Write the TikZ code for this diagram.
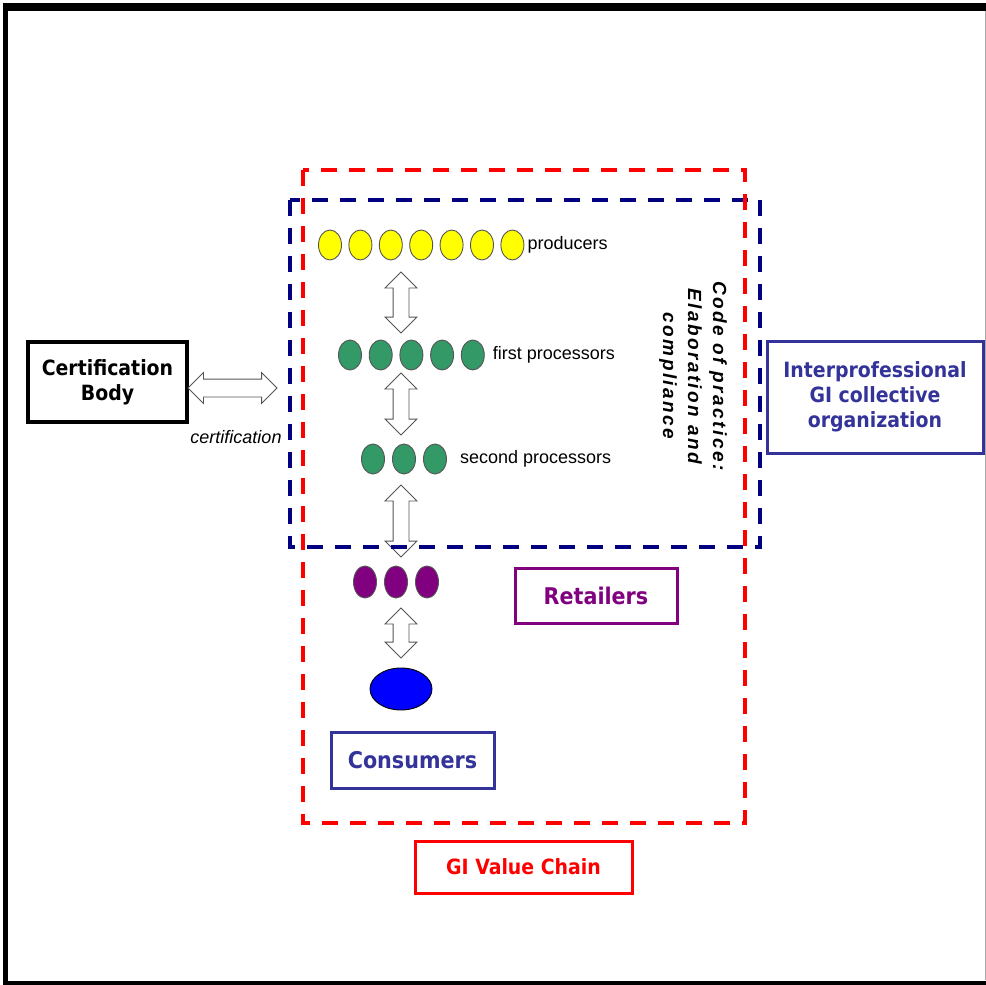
\documentclass[tikz,border=0pt]{standalone}
\usepackage{fontspec}
\setmainfont{Liberation Sans}
\newfontfamily\rotulo{DejaVu Sans Condensed Bold}
\newfontfamily\codigo{Liberation Sans}[LetterSpace=13]
\usetikzlibrary{shapes.geometric,shapes.arrows}
\definecolor{rojo}{HTML}{FF0000}
\definecolor{marino}{HTML}{000080}
\definecolor{morado}{HTML}{800080}
\definecolor{indigo}{HTML}{333399}
\definecolor{amarillo}{HTML}{FFFF00}
\definecolor{verde}{HTML}{339966}
\definecolor{azul}{HTML}{0000FF}
\definecolor{gris}{HTML}{555555}

\tikzset{
  grano/.style={ellipse, draw=gris, line width=0.9pt, inner sep=0pt, minimum width=23pt, minimum height=30pt},
  flecha/.style={double arrow, draw=gris, fill=white, line width=0.8pt, inner xsep=0pt, inner ysep=7.5pt,
    minimum width=31pt, double arrow head extend=8pt},
  caja/.style={draw, line width=3pt, inner sep=0pt, align=center, font=\rotulo\fontsize{21}{25}\selectfont},
  etiqueta/.style={anchor=west, inner sep=0pt, font=\fontsize{18}{21}\selectfont},
  marco/.style={dashed, dash pattern=on 16pt off 12pt, line width=4pt}
}

\begin{document}
\begin{tikzpicture}[x=1pt, y=-1pt]
  \useasboundingbox (0,0) rectangle (986,985);
  \fill[white] (0,0) rectangle (986,985);

  % Marco exterior
  \draw[black, line width=8pt] (3,6.7) -- (986,6.7);
  \draw[black, line width=5pt] (5.6,3) -- (5.6,985);
  \draw[black, line width=4.5pt] (3,982.8) -- (986,982.8);
  \draw[gris!50, line width=1pt] (985,11) -- (985,980);

  % Productores
  \foreach \i in {1,...,7}
    \node[grano, fill=amarillo] (prod\i) at ({330+30.4*(\i-1)},245) {};
  \node[etiqueta] (prodlbl) at ([xshift=3pt]prod7.east) {producers};

  % Primeros transformadores
  \foreach \i in {1,...,5}
    \node[grano, fill=verde] (pri\i) at ({350+30.7*(\i-1)},355) {};
  \node[etiqueta] (prilbl) at ([xshift=8pt]pri5.east) {first processors};

  % Segundos transformadores
  \foreach \i in {1,...,3}
    \node[grano, fill=verde] (seg\i) at ({373+31*(\i-1)},459) {};
  \node[etiqueta] (seglbl) at ([xshift=13pt]seg3.east) {second processors};

  % Minoristas y consumidores
  \foreach \i in {1,...,3}
    \node[grano, fill=morado, minimum height=32pt] (min\i) at ({365+31*(\i-1)},582) {};
  \node[ellipse, draw=black, line width=0.9pt, fill=azul, inner sep=0pt,
    minimum width=62pt, minimum height=42pt] (cons) at (401,689) {};

  % Flechas de la cadena
  \node[flecha, rotate=90, minimum height=61pt] (f1) at (cons |- 0,302.5) {};
  \node[flecha, rotate=90, minimum height=62pt] (f2) at (cons |- 0,404) {};
  \node[flecha, rotate=90, minimum height=72pt] (f3) at (cons |- 0,521) {};
  \node[flecha, rotate=90, minimum height=50pt] (f4) at (cons |- 0,633) {};

  % Organismo de certificacion
  \node[caja, draw=black, line width=4pt, minimum width=159pt, minimum height=80pt] (certif) at (107.5,382) {Certification\\Body};
  \node[flecha, minimum height=89pt, inner ysep=8.5pt, minimum width=30pt, double arrow head extend=6.5pt] (fcert) at (232.5,388) {};
  \node[etiqueta, anchor=center, font=\itshape\fontsize{18}{21}\selectfont] (certlbl) at (236,437) {certification};

  % Cajas de colores
  \node[caja, draw=morado, text=morado, minimum width=162pt, minimum height=55pt,
    font=\rotulo\fontsize{23}{27}\selectfont] (minor) at (596,595.5) {Retailers};
  \node[caja, draw=indigo, text=indigo, minimum width=163pt, minimum height=56pt,
    font=\rotulo\fontsize{23}{27}\selectfont] (consum) at (412.5,760) {Consumers};
  \node[caja, draw=rojo, text=rojo, minimum width=217pt, minimum height=52pt] (cadena) at (523.5,867) {GI Value Chain};
  \node[caja, draw=indigo, text=indigo, minimum width=216pt, minimum height=112pt] (interpro) at (875,397)
    {Interprofessional\\GI collective\\organization};

  % Codigo de practicas
  \node[rotate=-90, align=center, inner sep=0pt, font=\codigo\bfseries\itshape\fontsize{19}{25}\selectfont] (codigo) at (693,376)
    {Code of practice:\\Elaboration and\\compliance};

  % Recuadros discontinuos
  \draw[marco, marino] (290,200) rectangle (760,547);
  \draw[marco, rojo] (303,170) rectangle (745,823);
\end{tikzpicture}
\end{document}
